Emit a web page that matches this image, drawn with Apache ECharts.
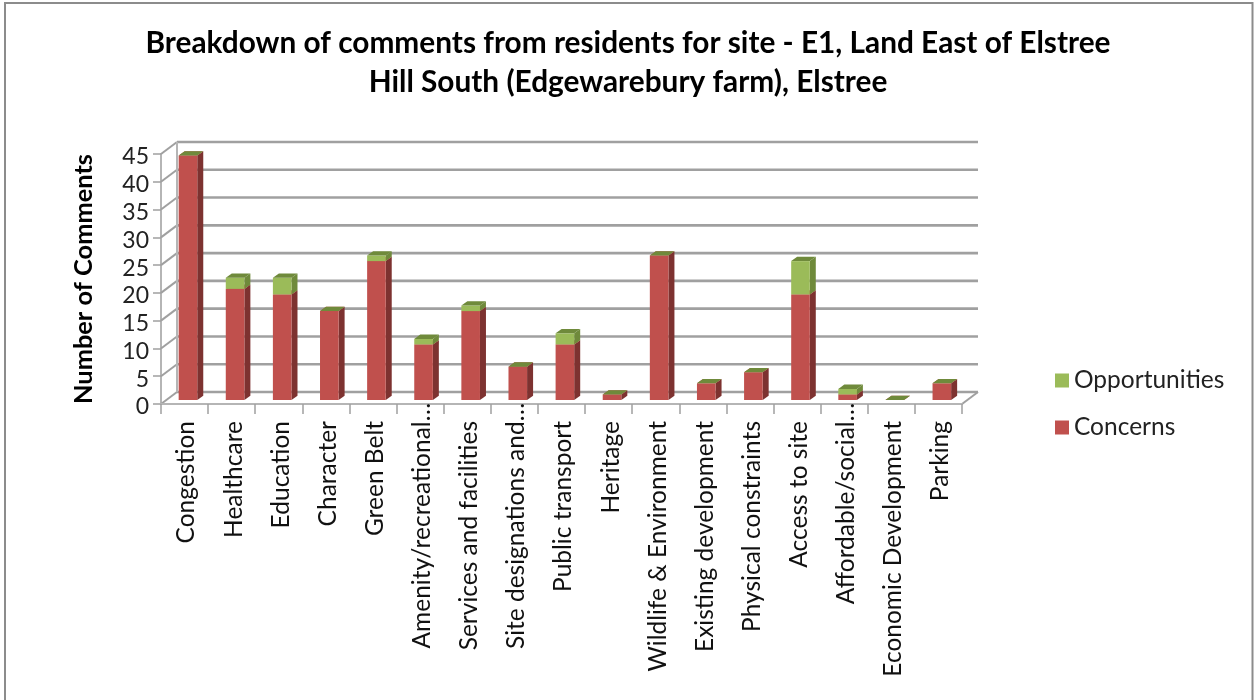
<!DOCTYPE html>
<html><head><meta charset="utf-8">
<script src="https://cdn.jsdelivr.net/npm/echarts@6/dist/echarts.min.js"></script>
<style>html,body{margin:0;padding:0;background:#fff}#c{width:1255px;height:700px}</style>
</head><body><div id="c"></div>
<script>
const categories = ['Congestion','Healthcare','Education','Character','Green Belt','Amenity/recreational…','Services and facilities','Site designations and…','Public transport','Heritage','Wildlife & Environment','Existing development','Physical constraints','Access to site','Affordable/social…','Economic Development','Parking'];
const concerns = [44,20,19,16,25,10,16,6,10,1,26,3,5,19,1,0,3];
const opportunities = [0,2,3,0,1,1,1,0,2,0,0,0,0,6,1,0,0];
const yTicks = [0,5,10,15,20,25,30,35,40,45];
const titleLines = ['Breakdown of comments from residents for site - E1, Land East of Elstree','Hill South (Edgewarebury farm), Elstree'];
const FONT = 'Lato';
const WALL_DX = 16, WALL_DY = 12, GRID = '#a0a0a0';
const BAR_W = 18.6, BAR_DX = 6, BAR_DY = 4.3, BAR_SHIFT_X = 3.4, BAR_SHIFT_Y = 4;

function barRenderer(front, side, top) {
  return function (params, api) {
    const i = api.value(0), base = api.value(1), end = api.value(2);
    const p0 = api.coord([i, base]), p1 = api.coord([i, end]);
    const xl = p0[0] + BAR_SHIFT_X - BAR_W / 2, xr = xl + BAR_W;
    const yb = p0[1] - BAR_SHIFT_Y, yt = p1[1] - BAR_SHIFT_Y;
    const kids = [];
    if (yb - yt > 0) {
      kids.push({type:'polygon',shape:{points:[[xr,yb],[xr+BAR_DX,yb-BAR_DY],[xr+BAR_DX,yt-BAR_DY],[xr,yt]]},style:{fill:side}});
      kids.push({type:'rect',shape:{x:xl,y:yt,width:BAR_W,height:yb-yt},style:{fill:front}});
    }
    kids.push({type:'polygon',shape:{points:[[xl,yt],[xr,yt],[xr+BAR_DX,yt-BAR_DY],[xl+BAR_DX,yt-BAR_DY]]},style:{fill:top}});
    return {type:'group',children:kids};
  };
}
function wallRenderer(params, api) {
  const v = api.value(0);
  const a = api.coord([0, v]);
  const left = a[0] - (api.size([1,0])[0]) / 2;
  const cs = params.coordSys;
  const right = cs.x + cs.width;
  const y = a[1];
  const line = (x1,y1,x2,y2,w,c) => ({type:'line',shape:{x1,y1,x2,y2},style:{stroke:c||GRID,lineWidth:w||2}});
  const kids = [
    line(left,y,left+WALL_DX,y-WALL_DY),
    line(left+WALL_DX,y-WALL_DY,right+WALL_DX,y-WALL_DY,2.6)
  ];
  if (v === 0) {
    kids.push(line(right,y,right+WALL_DX,y-WALL_DY));
    kids.push(line(left,y,right,y,2,'#b5b5b5'));
  }
  if (v === yTicks[yTicks.length-1]) kids.push(line(left+WALL_DX,y-WALL_DY,left+WALL_DX,cs.y+cs.height-WALL_DY,2,'#b5b5b5'));
  return {type:'group',children:kids};
}
const labelBase = {fontFamily:FONT,fontSize:24.5,color:'#111'};
const chart = echarts.init(document.getElementById('c'));
chart.setOption({
  animation:false,
  backgroundColor:'#fff',
  title:{text:titleLines.join('\n'),left:623,top:19,textAlign:'center',
    textStyle:{fontFamily:FONT,fontSize:29.8,fontWeight:'bold',color:'#000',lineHeight:39}},
  grid:{left:161,top:154,width:801,height:250,containLabel:false},
  legend:{orient:'vertical',left:1050,top:363,itemWidth:14,itemHeight:14,itemGap:22,
    textStyle:{fontFamily:FONT,fontSize:24.5,color:'#222'},
    data:[{name:'Opportunities',icon:'rect',itemStyle:{color:'#9bbb59'}},{name:'Concerns',icon:'rect',itemStyle:{color:'#c0504d'}}]},
  xAxis:{type:'category',data:categories,z:5,
    axisLine:{show:true,lineStyle:{color:'#b5b5b5',width:2}},
    axisTick:{show:true,alignWithLabel:false,length:10,lineStyle:{color:'#a0a0a0',width:1.5}},
    axisLabel:{rotate:90,interval:0,margin:-1,
      formatter:function(v){return (v.endsWith('…')?'{t|':'{n|')+v+'}';},
      rich:{
        n:Object.assign({padding:[4,18,0,0]},labelBase),
        t:Object.assign({padding:[4,0,0,0]},labelBase)
      }}},
  yAxis:{type:'value',min:0,max:45,interval:5,
    name:'Number of Comments',nameLocation:'middle',nameGap:65,
    nameTextStyle:{fontFamily:FONT,fontSize:25.4,fontWeight:'bold',color:'#000'},
    splitLine:{show:false},
    axisLine:{show:true,lineStyle:{color:'#b5b5b5',width:2}},
    axisTick:{show:true,length:8,lineStyle:{color:'#a0a0a0',width:1.5}},
    axisLabel:{margin:12,formatter:function(v){return '{a|'+v+'}';},
      rich:{a:{fontFamily:FONT,fontSize:23,color:'#222',padding:[6,0,0,0]}}}},
  series:[
    {name:'walls',type:'custom',silent:true,z:1,renderItem:wallRenderer,encode:{y:0},data:yTicks.map(v=>[v])},
    {name:'Concerns',type:'custom',z:2,renderItem:barRenderer('#c0504d','#7d3230','#c0504d'),
      encode:{x:0,y:2},data:concerns.map((v,i)=>[i,0,v])},
    {name:'Opportunities',type:'custom',z:3,renderItem:barRenderer('#9bbb59','#6f8a3b','#6f8a3b'),
      encode:{x:0,y:2},data:opportunities.map((v,i)=>[i,concerns[i],concerns[i]+v])}
  ],
  graphic:[{type:'rect',silent:true,z:-1,shape:{x:5,y:3,width:1247.5,height:720},style:{fill:'none',stroke:'#8c8c8c',lineWidth:2}}]
});
</script></body></html>
